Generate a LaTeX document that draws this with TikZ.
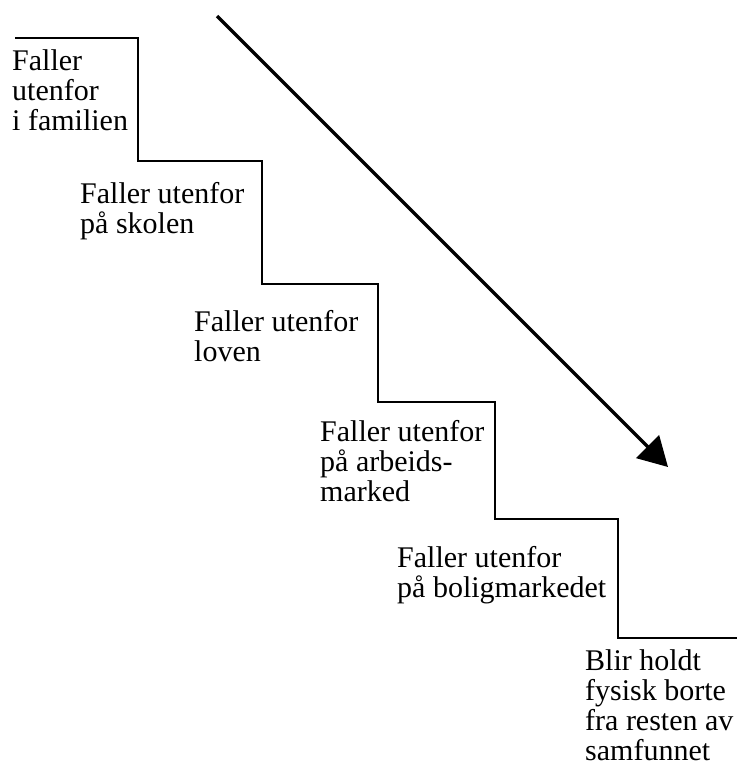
\documentclass[tikz,border=0pt]{standalone}
\usepackage{fontspec}
\setmainfont{Liberation Serif}
\usetikzlibrary{arrows.meta}
\begin{document}
\begin{tikzpicture}[x=1pt,y=-1pt,
  stairtext/.style={anchor=base west,inner sep=0pt,align=left,font=\fontsize{30}{30}\selectfont},
  stair/.style={line width=2pt,line join=miter},
  fall/.style={line width=3.2pt,-{Triangle[length=29pt,width=32pt]}}]
\useasboundingbox (0,0) rectangle (737,768);
\draw[stair] (15,38) -- (138,38) -- (138,161) -- (262,161) -- (262,284) -- (378,284)
  -- (378,402) -- (495,402) -- (495,519) -- (618,519) -- (618,638) -- (737,638);
\coordinate (a0) at (217,16);
\coordinate (a1) at (668,467);
\draw[fall] (a0) -- (a1);
\node[stairtext] (s1) at (12,130) {Faller\\utenfor\\i familien};
\node[stairtext] (s2) at (80,233) {Faller utenfor\\på skolen};
\node[stairtext] (s3) at (194,361) {Faller utenfor\\loven};
\node[stairtext] (s4) at (320,501) {Faller utenfor\\på arbeids-\\marked};
\node[stairtext] (s5) at (397,597) {Faller utenfor\\på boligmarkedet};
\node[stairtext] (s6) at (585,760) {Blir holdt\\fysisk borte\\fra resten av\\samfunnet};
\end{tikzpicture}
\end{document}
